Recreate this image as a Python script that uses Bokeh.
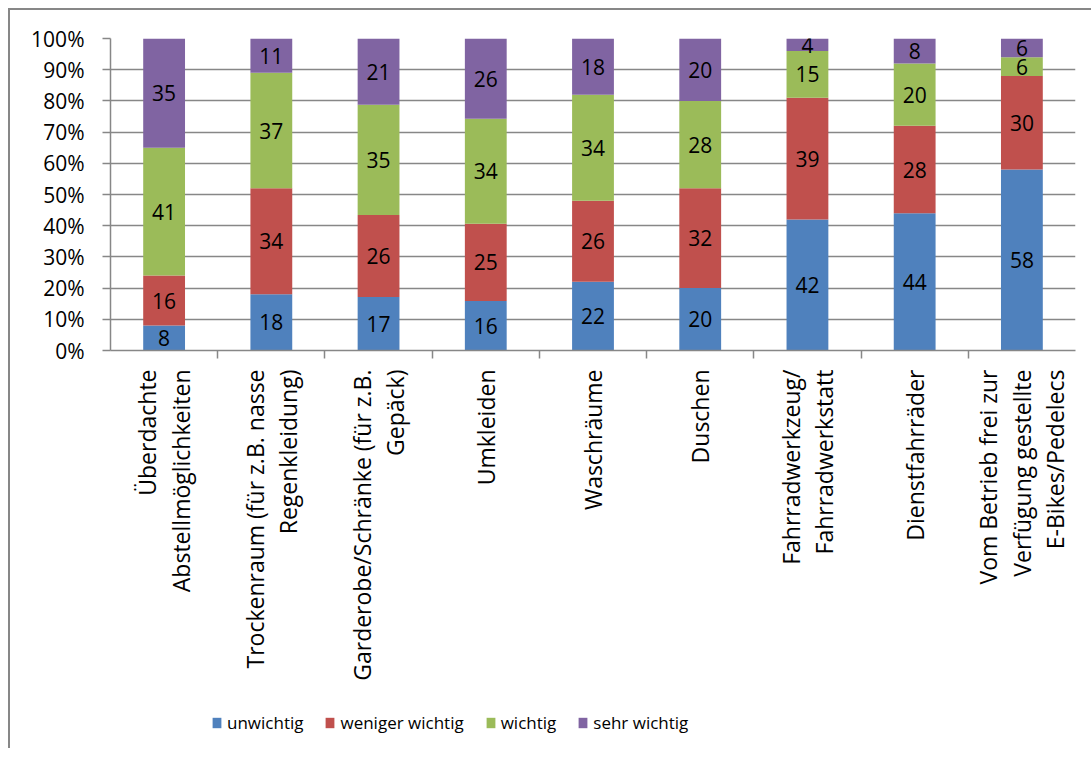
import math
import pandas as pd
from bokeh.plotting import figure
from bokeh.layouts import column
from bokeh.models import (ColumnDataSource, FactorRange, Range1d, CategoricalAxis,
                          FixedTicker, NumeralTickFormatter, CustomLabelingPolicy)
from bokeh.core.properties import value
from bokeh.embed import file_html
from bokeh.resources import INLINE

# Facilities asked about (axis labels, line breaks included)
categories = [
    "Überdachte\nAbstellmöglichkeiten",
    "Trockenraum (für z.B. nasse\nRegenkleidung)",
    "Garderobe/Schränke (für z.B.\nGepäck)",
    "Umkleiden",
    "Waschräume",
    "Duschen",
    "Fahrradwerkzeug/\nFahrradwerkstatt",
    "Dienstfahrräder",
    "Vom Betrieb frei zur\nVerfügung gestellte\nE-Bikes/Pedelecs",
]

# Answer levels and counts per facility
levels = ["unwichtig", "weniger wichtig", "wichtig", "sehr wichtig"]
unwichtig = [8, 18, 17, 16, 22, 20, 42, 44, 58]
weniger_wichtig = [16, 34, 26, 25, 26, 32, 39, 28, 30]
wichtig = [41, 37, 35, 34, 34, 28, 15, 20, 6]
sehr_wichtig = [35, 11, 21, 26, 18, 20, 4, 8, 6]

colors = ["#4F81BD", "#C0504D", "#9BBB59", "#8064A2"]
y_ticks = [0.0, 0.1, 0.2, 0.3, 0.4, 0.5, 0.6, 0.7, 0.8, 0.9, 1.0]

FONT = "Open Sans"
GRAY = "#878787"

counts = pd.DataFrame(
    {"unwichtig": unwichtig, "weniger wichtig": weniger_wichtig,
     "wichtig": wichtig, "sehr wichtig": sehr_wichtig},
    index=categories,
)
# 100 % stacking: every column is scaled to its own total
shares = counts.div(counts.sum(axis=1), axis=0)

bar_src = ColumnDataSource(shares.reset_index().rename(columns={"index": "cat"}))

# label positions in the middle of each segment
rows = []
for cat in categories:
    bottom = 0.0
    for lvl in levels:
        s = shares.loc[cat, lvl]
        rows.append({"cat": cat, "y": bottom + s / 2, "txt": str(counts.loc[cat, lvl])})
        bottom += s
label_src = ColumnDataSource(pd.DataFrame(rows))

# ---- main chart -------------------------------------------------------------
p = figure(
    x_range=FactorRange(*categories),
    y_range=Range1d(0, 1),
    width=1081, height=680,
    output_backend="svg", toolbar_location=None,
    x_axis_location=None,
    min_border_left=100, min_border_right=16,
    min_border_top=28, min_border_bottom=340,
    background_fill_color="white", border_fill_color="white",
)
p.outline_line_color = None

p.vbar_stack(levels, x="cat", width=0.39, color=colors, line_color=None,
             source=bar_src)

p.text(x="cat", y="y", text="txt", source=label_src,
       text_font=value(FONT), text_font_size="21px", text_color="#000000",
       text_align="center", text_baseline="middle")

# y axis with percent ticks
yax = p.yaxis[0]
yax.ticker = FixedTicker(ticks=y_ticks)
yax.formatter = NumeralTickFormatter(format="0%")
yax.axis_line_color = GRAY
yax.axis_line_width = 1.5
yax.major_tick_line_color = GRAY
yax.major_tick_line_width = 1.5
yax.major_tick_out = 8
yax.major_tick_in = 0
yax.minor_tick_line_color = None
yax.major_label_text_font = FONT
yax.major_label_text_font_size = "21px"
yax.major_label_text_color = "#000000"
yax.major_label_standoff = 18

p.xgrid.grid_line_color = None
p.ygrid.ticker = FixedTicker(ticks=y_ticks)
p.ygrid.grid_line_color = GRAY
p.ygrid.grid_line_width = 1.5

# bottom axis line; its ticks sit on the borders between the columns
bounds = [f"b{i}" for i in range(len(categories) + 1)]
p.extra_x_ranges = {"bounds": FactorRange(*bounds, range_padding=-0.5,
                                          range_padding_units="absolute")}
tick_axis = CategoricalAxis(
    x_range_name="bounds",
    axis_line_color=GRAY, axis_line_width=1.5,
    major_tick_line_color=GRAY, major_tick_line_width=1.5,
    major_tick_out=8, major_tick_in=0,
    minor_tick_line_color=None,
    major_label_standoff=0,
    major_label_text_font_size="1px",
    major_label_policy=CustomLabelingPolicy(code="for (const i of []) yield i"),
)
p.add_layout(tick_axis, "below")

# category names, rotated to read upwards, lines centred on each other
cat_axis = CategoricalAxis(
    axis_line_color=None, major_tick_line_color=None, minor_tick_line_color=None,
    major_label_orientation=math.pi / 2,
    major_label_text_font=FONT, major_label_text_font_size="23px",
    major_label_text_color="#000000",
    major_label_text_align="center",
    major_label_text_line_height=1.05,
    major_label_standoff=1,
)
p.add_layout(cat_axis, "below")

# ---- legend strip below the chart -------------------------------------------
# the stacked columns are drawn again here, outside the visible y range,
# only so that the legend has coloured swatches to show
lf = figure(
    x_range=FactorRange(*categories), y_range=Range1d(2, 3),
    width=1081, height=58,
    output_backend="svg", toolbar_location=None,
    x_axis_location=None, y_axis_location=None,
    min_border=0, min_border_left=0, min_border_right=0,
    min_border_top=0, min_border_bottom=0,
    background_fill_color="white", border_fill_color="white",
)
lf.outline_line_color = None
lf.grid.grid_line_color = None
lf.vbar_stack(levels, x="cat", width=0.39, color=colors, line_color=None,
              source=bar_src, legend_label=levels)

leg = lf.legend[0]
leg.location = (101, 14)
leg.orientation = "horizontal"
leg.border_line_color = None
leg.background_fill_alpha = 0
leg.padding = 0
leg.margin = 0
leg.spacing = 21
leg.glyph_width = 11
leg.glyph_height = 13
leg.label_standoff = 5
leg.label_text_font = FONT
leg.label_text_font_size = "17px"
leg.label_text_color = "#000000"

page = column(
    p, lf, spacing=0,
    styles={"margin-left": "8px", "margin-top": "8px",
            "border-top": f"2px solid {GRAY}", "border-left": f"2px solid {GRAY}"},
)

open("out.html", "w").write(file_html(page, INLINE))
